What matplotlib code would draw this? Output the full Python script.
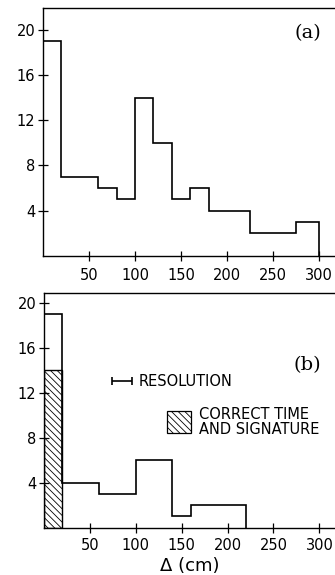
import numpy as np
import matplotlib
matplotlib.use("Agg")
import matplotlib.pyplot as plt

# histogram (a)
edges_a = [0, 20, 60, 80, 100, 120, 140, 160, 180, 225, 275, 300]
counts_a = [19, 7, 6, 5, 14, 10, 5, 6, 4, 2, 3]

# histogram (b)
edges_b = [0, 20, 60, 100, 140, 160, 220]
counts_b = [19, 4, 3, 6, 1, 2]
hatched_b = 14  # correct time and signature, first bin

xticks = [50, 100, 150, 200, 250, 300]
yticks = [4, 8, 12, 16, 20]

plt.rcParams["hatch.linewidth"] = 0.6
plt.rcParams["font.family"] = "DejaVu Sans"

fig = plt.figure(figsize=(3.35, 5.75), dpi=100)
ax_a = fig.add_axes([0.128, 0.5548, 0.872, 0.431])
ax_b = fig.add_axes([0.131, 0.0826, 0.869, 0.4078])


def style(ax, ytop, xpad):
    ax.set_xlim(0, 317)
    ax.set_ylim(0, ytop)
    ax.set_xticks(xticks)
    ax.set_yticks(yticks)
    ax.spines["right"].set_visible(False)
    for s in ("left", "bottom", "top"):
        ax.spines[s].set_linewidth(1.0)
    ax.tick_params(direction="inout", length=7, width=0.9, labelsize=10.5,
                   colors="black", pad=2)
    ax.tick_params(axis="x", pad=xpad)


ax_a.stairs(counts_a, edges_a, color="black", lw=1.2)
style(ax_a, 21.9, 5)
ax_a.text(288, 19.7, "(a)", family="DejaVu Serif", fontsize=14,
          ha="center", va="center")

ax_b.stairs(counts_b, edges_b, color="black", lw=1.2)
ax_b.bar(10, hatched_b, width=20, fill=False, hatch="\\\\\\\\\\",
         edgecolor="black", lw=1.0)
style(ax_b, 20.9, 4)
ax_b.text(287, 14.5, "(b)", family="DejaVu Serif", fontsize=14,
          ha="center", va="center")

# resolution marker
ax_b.errorbar(85, 13.05, xerr=11, fmt="none", ecolor="black", elinewidth=1.2,
              capsize=3, capthick=1.2)
ax_b.text(103, 13.05, "RESOLUTION", fontsize=10.5, ha="left", va="center")

# legend box for hatched area
ax_b.bar(147, 2.0, width=26, bottom=8.4, fill=False, hatch="\\\\\\\\\\",
         edgecolor="black", lw=0.9)
ax_b.text(169, 9.4, "CORRECT TIME\nAND SIGNATURE", fontsize=10.5,
          ha="left", va="center", linespacing=1.0)

ax_b.set_xlabel("Δ (cm)", fontsize=13, labelpad=3)

fig.savefig("out.png", dpi=100)
